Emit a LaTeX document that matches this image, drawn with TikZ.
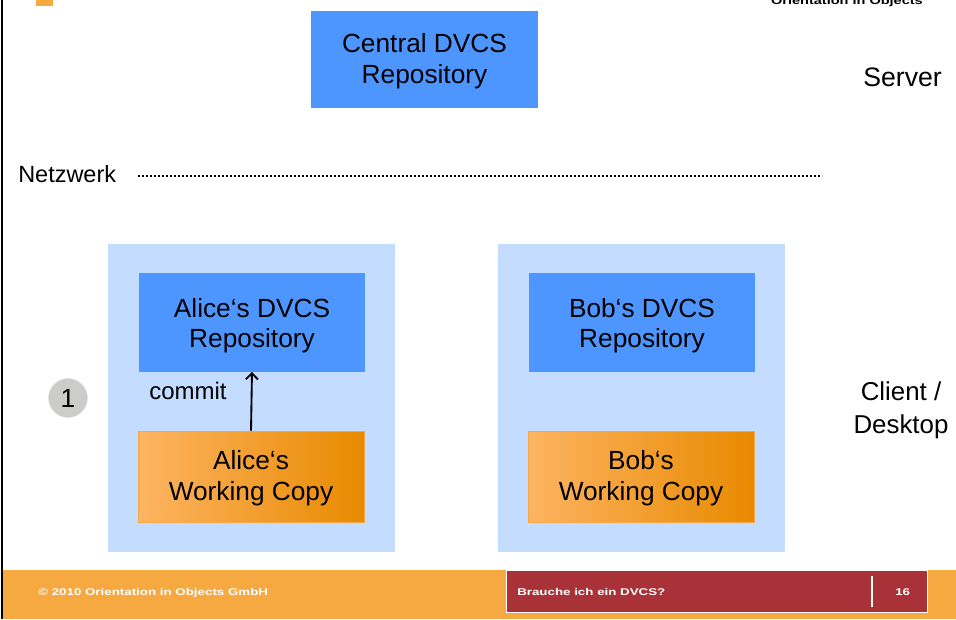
\documentclass[tikz,border=0pt]{standalone}
\usepackage{graphicx}
\usepackage{fontspec}
\setmainfont{Liberation Sans}
\usetikzlibrary{positioning, arrows.meta}
\definecolor{repoblue}{RGB}{78,150,255}
\definecolor{clientblue}{RGB}{196,220,255}
\definecolor{wclight}{RGB}{253,180,98}
\definecolor{wcmid}{RGB}{243,160,48}
\definecolor{wcdark}{RGB}{232,138,0}
\definecolor{wcedge}{RGB}{246,168,70}
\definecolor{footorange}{RGB}{245,169,64}
\definecolor{footred}{RGB}{168,50,56}
\definecolor{stepgray}{RGB}{204,204,202}
\newcommand{\bigtext}{\fontsize{19.7}{23}\selectfont}

\begin{document}
\begin{tikzpicture}[x=0.75pt, y=-0.75pt,
    repo/.style={fill=repoblue, inner sep=0pt, align=center, font=\bigtext,
                 minimum width=169.5pt, text height=55.8pt, text depth=18pt},
    wc/.style={left color=wclight, middle color=wcmid, right color=wcdark, draw=wcedge, line width=0.4pt,
               inner sep=0pt, align=center, font=\bigtext,
               minimum width=169.5pt, text height=51.75pt, text depth=16.5pt},
    client/.style={fill=clientblue, inner sep=0pt, minimum width=215.25pt, minimum height=231pt},
    plain/.style={inner sep=0pt, font=\bigtext},
    foot/.style={inner sep=0pt, text=white, font=\fontsize{7.35}{9}\selectfont\bfseries},
    netline/.style={line width=1.4pt, dash pattern=on 1.4pt off 1.6pt}]
    \useasboundingbox (0,0) rectangle (956,619);
    \clip (0,0) rectangle (956,619);

    % frame and header
    \fill (1,0) rectangle (3,619);
    \fill[footorange] (36,0) rectangle (53,6);
    \node[inner sep=0pt, anchor=base east, font=\fontsize{8}{9}\selectfont\bfseries] (brand) at (923,4)
        {\scalebox{1.36}[1]{Orientation in Objects}};

    % server side
    \node[repo, minimum width=170.25pt, text height=54.4pt, text depth=18.35pt] (central) at (424.5,59.5) {Central DVCS\\Repository};
    \node[plain, anchor=base west, font=\fontsize{20}{24}\selectfont] (server) at (863,86.5) {Server};

    % network
    \node[plain, anchor=base west, font=\fontsize{17.6}{21}\selectfont] (netz) at (18,182.5) {Netzwerk};
    \coordinate (netstart) at (138,176);
    \coordinate (netend) at (822,176);
    \draw[netline] (netstart) -- (netend);

    % clients
    \node[client] (aliceclient) at (251.75,398) {};
    \node[client] (bobclient) at (641.5,398) {};
    \node[repo] (alicerepo) at (252,322.5) {Alice‘s DVCS\\Repository};
    \node[repo] (bobrepo) at (642,322.5) {Bob‘s DVCS\\Repository};
    \node[wc] (alicewc) at (251,476.5) {Alice‘s\\Working Copy};
    \node[wc] (bobwc) at (641,476.5) {Bob‘s\\Working Copy};
    \draw[-{Straight Barb[length=4.5pt, width=9pt]}, line width=1.4pt] (alicewc.north) -- (alicerepo.south);
    \node[plain, anchor=base west, font=\fontsize{18}{21}\selectfont] (commit) at (149,399) {commit};
    \node[circle, fill=stepgray, draw=stepgray!60, inner sep=0pt, minimum size=29.25pt, font=\bigtext] (stepone) at (68,398) {1};
    \node[plain, align=center, font=\fontsize{19.4}{24.75}\selectfont, anchor=base] (desk) at (901,433) {Client /\\Desktop};

    % footer
    \fill[footorange] (3,570) rectangle (956,619);
    \draw[fill=footred, draw=white, line width=0.75pt] (506,570) rectangle (927,612);
    \draw[white, line width=1pt] (872,576) -- (872,607);
    \node[foot, anchor=base west] (copyright) at (38,595) {\scalebox{1.36}[1]{© 2010 Orientation in Objects GmbH}};
    \node[foot, anchor=base west] (title) at (517,595) {\scalebox{1.36}[1]{Brauche ich ein DVCS?}};
    \node[foot, anchor=base west] (pagenum) at (895,595) {\scalebox{1.36}[1]{16}};
\end{tikzpicture}
\end{document}
